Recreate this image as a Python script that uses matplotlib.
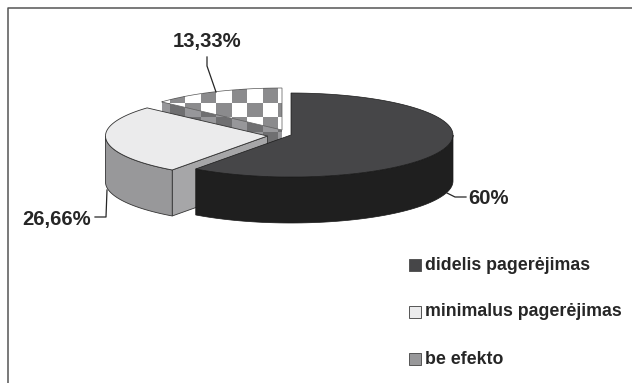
import matplotlib
matplotlib.use('Agg')
import matplotlib.pyplot as plt
import numpy as np
from matplotlib.patches import Polygon, Rectangle

plt.rcParams['font.family'] = ['Liberation Sans', 'DejaVu Sans']

labels = ['didelis pagerėjimas', 'minimalus pagerėjimas', 'be efekto']
values = [60, 26.66, 13.33]
value_labels = ['60%', '26,66%', '13,33%']

# layout, pixels
a, b, depth = 162, 42, 46
centers = [(291, 135), (267.5, 136), (282, 130)]
ink = '#262626'


def rim_xy(cx, cy, t0, t1, n=80):
    t = np.radians(np.linspace(t0, t1, n))
    return cx + a * np.sin(t), cy - b * np.cos(t)


def top_poly(cx, cy, t0, t1):
    x, y = rim_xy(cx, cy, t0, t1)
    return np.column_stack([np.r_[cx, x], np.r_[cy, y]])


def side_poly(cx, cy, t0, t1):
    # outer wall between two angles
    x, y = rim_xy(cx, cy, t0, t1)
    return np.column_stack([np.r_[x, x[::-1]], np.r_[y, y[::-1] + depth]])


def cut_poly(cx, cy, t):
    x, y = rim_xy(cx, cy, t, t, 1)
    return [(cx, cy), (x[0], y[0]), (x[0], y[0] + depth), (cx, cy + depth)]


def checker(ax, poly, c1, c2):
    xe = np.arange(278 - 15.5 * 9, 300, 15.5)
    ye = np.arange(102.7 - 14.7 * 2, 200, 14.7)
    ii, jj = np.meshgrid(np.arange(len(xe) - 1), np.arange(len(ye) - 1))
    cmap = matplotlib.colors.ListedColormap([c1, c2])
    m = ax.pcolormesh(xe, ye, (ii + jj) % 2, cmap=cmap, zorder=ax.zo)
    p = Polygon(poly, closed=True, transform=ax.transData, fc='none', ec='none')
    ax.add_patch(p)
    m.set_clip_path(p)
    ax.zo += 1


fig = plt.figure(figsize=(6.32, 3.83), dpi=100)
ax = fig.add_axes([0, 0, 1, 1])
ax.set_xlim(0, 632)
ax.set_ylim(383, 0)
ax.axis('off')
ax.zo = 1

# frame, the scan cuts off the right and bottom sides
ax.plot([7.5, 7.5, 632], [383, 8, 8], color='#555555', lw=1.1, zorder=0)

angles = 360 * np.cumsum([0] + values) / sum(values)
t_dark0, t_dark1 = angles[0], angles[1]
t_light0, t_light1 = angles[1], angles[2]
t_chk0, t_chk1 = angles[2], angles[3]

# checkered slice, at the back
cx, cy = centers[2]
checker(ax, cut_poly(cx, cy, t_chk0), '#6f6f71', '#97979a')
checker(ax, top_poly(cx, cy, t_chk0, t_chk1), '#ffffff', '#8b8b8d')
ax.add_patch(Polygon(top_poly(cx, cy, t_chk0, t_chk1), closed=True, fc='none', ec='#555555', lw=0.5, zorder=ax.zo))
ax.zo += 1

# light slice
cx, cy = centers[1]
ax.add_patch(Polygon(cut_poly(cx, cy, t_light0), closed=True, fc='#a6a6a8', ec='#333333', lw=0.6, zorder=ax.zo))
ax.add_patch(Polygon(side_poly(cx, cy, t_light0, 270), closed=True, fc='#98989a', ec='#333333', lw=0.6, zorder=ax.zo))
ax.add_patch(Polygon(top_poly(cx, cy, t_light0, t_light1), closed=True, fc='#ebebec', ec='#333333', lw=0.6, zorder=ax.zo))
ax.zo += 1

# dark slice, in front
cx, cy = centers[0]
ax.add_patch(Polygon(side_poly(cx, cy, 90, t_dark1), closed=True, fc='#1f1f1f', ec='#1a1a1a', lw=0.5, zorder=ax.zo))
ax.add_patch(Polygon(top_poly(cx, cy, t_dark0, t_dark1), closed=True, fc='#464648', ec='#1a1a1a', lw=0.5, zorder=ax.zo))
ax.zo += 1

# value labels and leaders
ax.plot([216, 207, 207], [92, 66, 57], color=ink, lw=0.9, zorder=ax.zo)
ax.plot([107, 106, 95], [190, 217, 217], color=ink, lw=0.9, zorder=ax.zo)
ax.plot([447, 455, 466], [193, 197, 197], color=ink, lw=0.9, zorder=ax.zo)
ax.text(488.5, 198, value_labels[0], fontsize=14.6, fontweight='bold', color=ink, ha='center', va='center')
ax.text(56.5, 219, value_labels[1], fontsize=14.6, fontweight='bold', color=ink, ha='center', va='center')
ax.text(207, 41, value_labels[2], fontsize=14.6, fontweight='bold', color=ink, ha='center', va='center')

# legend
legend_colors = ['#464648', '#ebebec', '#98989a']
legend_y = [265, 312, 359]
for lab, col, y in zip(labels, legend_colors, legend_y):
    ax.add_patch(Rectangle((409, y - 6), 12, 12, fc=col, ec='#555555', lw=0.7))
    ax.text(425, y, lab, fontsize=12.75, fontweight='bold', color=ink, ha='left', va='center')

fig.savefig('out.png', dpi=100)
